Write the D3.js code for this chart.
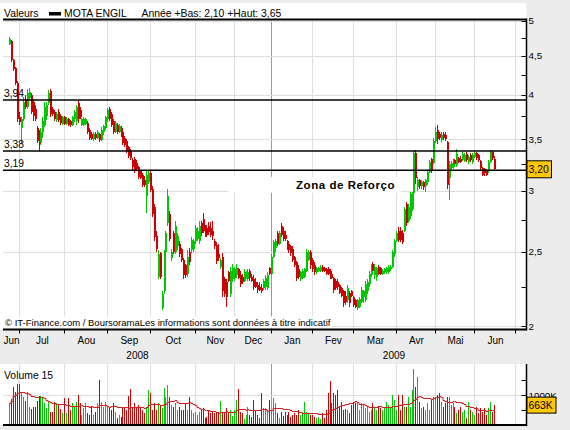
<!DOCTYPE html>
<html lang="fr">
<head>
<meta charset="utf-8">
<title>MOTA ENGIL</title>
<script src="https://cdn.jsdelivr.net/npm/d3@7/dist/d3.min.js"></script>
<style>
  html, body { margin: 0; padding: 0; background: #ececec; }
  svg { display: block; }
  text { font-family: "Liberation Sans", Arial, sans-serif; fill: #000; }
</style>
</head>
<body>
<svg id="chart" width="570" height="430"></svg>
<script>
// ---------- data ----------
const stock = "MOTA ENGIL";
const monthLabels = ["Jun","Jul","Aou","Sep","Oct","Nov","Dec","Jan","Fev","Mar","Avr","Mai","Jun"];
// trading-day index at which each month starts (last entry closes the final month)
const monthStart = [-16, 5, 28, 50, 72, 95, 115, 134, 155, 176, 198, 218, 238, 259];
const yearLabels = ["2008", "2009"];
const yearStart = [-16, 134, 259];
const priceTicks = [2, 2.25, 2.5, 2.75, 3, 3.25, 3.5, 3.75, 4, 4.25, 4.5, 4.75, 5];
const levels = [3.94, 3.38, 3.19];
const volumeTicks = [500, 1000, 1500];
const maPeriod = 15;

// daily [open, high, low, close]
const ohlc = [
  [4.66,4.76,4.64,4.73],[4.70,4.72,4.42,4.44],[4.44,4.46,4.30,4.32],[4.33,4.35,4.12,4.14],[4.15,4.17,3.69,3.72],[3.74,3.80,3.66,3.69],[3.62,3.74,3.46,3.72],[3.72,3.97,3.70,3.92],[3.95,4.00,3.84,3.86],[3.86,4.07,3.84,4.02],
  [3.96,4.08,3.94,4.04],[4.00,4.02,3.78,3.80],[3.92,3.95,3.70,3.75],[3.84,3.88,3.70,3.72],[3.62,3.64,3.46,3.48],[3.55,3.60,3.38,3.45],[3.46,3.62,3.44,3.58],[3.58,3.74,3.52,3.70],[3.66,3.91,3.63,3.86],[3.76,3.92,3.71,3.88],
  [3.90,4.06,3.88,4.02],[4.05,4.07,3.74,3.78],[3.84,3.86,3.76,3.78],[3.80,3.82,3.70,3.72],[3.71,3.80,3.69,3.78],[3.80,3.83,3.69,3.71],[3.76,3.78,3.66,3.68],[3.67,3.76,3.66,3.74],[3.74,3.76,3.65,3.67],[3.67,3.74,3.65,3.72],
  [3.72,3.73,3.64,3.66],[3.70,3.71,3.63,3.65],[3.65,3.76,3.64,3.74],[3.72,3.82,3.69,3.80],[3.70,3.88,3.66,3.86],[3.90,3.93,3.68,3.72],[3.82,3.86,3.72,3.74],[3.66,3.73,3.64,3.72],[3.66,3.74,3.64,3.72],[3.67,3.73,3.66,3.72],
  [3.68,3.70,3.56,3.58],[3.60,3.62,3.49,3.52],[3.56,3.58,3.49,3.50],[3.50,3.58,3.48,3.56],[3.56,3.58,3.49,3.51],[3.52,3.60,3.50,3.58],[3.56,3.57,3.47,3.49],[3.49,3.63,3.48,3.60],[3.58,3.66,3.55,3.64],[3.62,3.76,3.60,3.74],
  [3.72,3.85,3.69,3.82],[3.84,3.86,3.70,3.72],[3.78,3.80,3.63,3.66],[3.70,3.72,3.56,3.58],[3.58,3.70,3.57,3.68],[3.66,3.68,3.56,3.58],[3.58,3.67,3.57,3.64],[3.62,3.64,3.53,3.55],[3.58,3.60,3.44,3.46],[3.52,3.54,3.42,3.44],
  [3.48,3.50,3.36,3.38],[3.42,3.43,3.31,3.33],[3.38,3.40,3.29,3.31],[3.29,3.31,3.18,3.22],[3.30,3.32,3.16,3.18],[3.26,3.29,3.18,3.20],[3.22,3.23,3.11,3.13],[3.18,3.19,3.11,3.12],[3.15,3.16,3.03,3.05],[3.10,3.14,3.03,3.05],
  [2.95,3.19,2.81,3.15],[3.08,3.18,3.06,3.16],[3.16,3.18,2.99,3.01],[3.02,3.04,2.77,2.80],[2.86,2.88,2.58,2.61],[2.62,2.66,2.50,2.52],[2.32,2.51,2.30,2.48],[2.49,2.50,2.30,2.32],[2.11,2.22,2.10,2.20],[2.22,2.51,2.20,2.48],
  [2.50,2.66,2.48,2.64],[2.72,3.02,2.70,2.95],[2.80,2.82,2.58,2.60],[2.45,2.52,2.43,2.50],[2.64,2.66,2.48,2.50],[2.50,2.74,2.48,2.70],[2.54,2.64,2.51,2.62],[2.56,2.58,2.46,2.48],[2.52,2.53,2.42,2.44],[2.44,2.45,2.30,2.33],
  [2.40,2.41,2.31,2.33],[2.34,2.51,2.32,2.46],[2.50,2.53,2.40,2.42],[2.51,2.61,2.49,2.59],[2.52,2.60,2.50,2.58],[2.58,2.71,2.56,2.68],[2.60,2.69,2.58,2.66],[2.58,2.74,2.56,2.70],[2.72,2.74,2.62,2.64],[2.76,2.81,2.64,2.66],
  [2.70,2.71,2.61,2.62],[2.68,2.71,2.61,2.63],[2.70,2.73,2.63,2.65],[2.68,2.73,2.61,2.63],[2.66,2.74,2.59,2.62],[2.58,2.60,2.52,2.54],[2.55,2.57,2.41,2.43],[2.48,2.56,2.43,2.45],[2.39,2.45,2.37,2.44],[2.46,2.49,2.18,2.22],
  [2.30,2.32,2.18,2.20],[2.28,2.30,2.12,2.18],[2.35,2.36,2.28,2.29],[2.20,2.39,2.18,2.36],[2.30,2.41,2.28,2.38],[2.31,2.39,2.29,2.37],[2.33,2.41,2.31,2.38],[2.37,2.38,2.30,2.31],[2.33,2.36,2.25,2.27],[2.32,2.34,2.27,2.28],
  [2.29,2.37,2.28,2.35],[2.31,2.36,2.30,2.34],[2.30,2.37,2.29,2.35],[2.36,2.37,2.29,2.31],[2.32,2.34,2.28,2.29],[2.30,2.33,2.23,2.25],[2.28,2.31,2.24,2.25],[2.26,2.28,2.21,2.23],[2.25,2.28,2.22,2.23],[2.24,2.27,2.21,2.22],
  [2.24,2.30,2.23,2.29],[2.25,2.33,2.23,2.31],[2.24,2.35,2.23,2.33],[2.38,2.39,2.33,2.34],[2.34,2.48,2.33,2.46],[2.46,2.59,2.45,2.57],[2.53,2.60,2.50,2.58],[2.64,2.66,2.54,2.56],[2.56,2.66,2.55,2.64],[2.70,2.72,2.61,2.63],
  [2.66,2.69,2.58,2.60],[2.63,2.66,2.58,2.60],[2.58,2.59,2.51,2.53],[2.56,2.57,2.49,2.51],[2.54,2.55,2.47,2.49],[2.52,2.54,2.42,2.44],[2.46,2.47,2.39,2.40],[2.42,2.43,2.29,2.31],[2.37,2.40,2.30,2.32],[2.30,2.36,2.29,2.35],
  [2.31,2.37,2.30,2.36],[2.32,2.38,2.31,2.37],[2.36,2.52,2.35,2.50],[2.44,2.51,2.43,2.50],[2.50,2.51,2.37,2.40],[2.44,2.45,2.35,2.37],[2.40,2.42,2.33,2.35],[2.35,2.39,2.34,2.38],[2.36,2.39,2.35,2.38],[2.36,2.40,2.35,2.39],
  [2.39,2.40,2.35,2.36],[2.38,2.39,2.35,2.36],[2.37,2.38,2.33,2.34],[2.37,2.39,2.33,2.34],[2.36,2.37,2.30,2.31],[2.34,2.36,2.30,2.31],[2.31,2.32,2.21,2.23],[2.29,2.30,2.23,2.24],[2.28,2.30,2.23,2.25],[2.26,2.27,2.20,2.21],
  [2.24,2.25,2.18,2.19],[2.22,2.23,2.12,2.14],[2.19,2.22,2.13,2.15],[2.16,2.26,2.14,2.24],[2.21,2.22,2.12,2.14],[2.22,2.23,2.18,2.19],[2.18,2.19,2.12,2.13],[2.16,2.17,2.11,2.12],[2.11,2.17,2.10,2.16],[2.12,2.18,2.11,2.17],
  [2.15,2.25,2.14,2.23],[2.18,2.23,2.14,2.22],[2.16,2.29,2.15,2.27],[2.22,2.30,2.20,2.28],[2.27,2.36,2.25,2.34],[2.33,2.41,2.32,2.39],[2.41,2.42,2.34,2.36],[2.33,2.41,2.30,2.39],[2.32,2.39,2.29,2.38],[2.39,2.40,2.33,2.34],
  [2.38,2.39,2.33,2.34],[2.34,2.37,2.33,2.36],[2.35,2.38,2.34,2.37],[2.35,2.39,2.34,2.38],[2.35,2.40,2.34,2.39],[2.37,2.40,2.36,2.39],[2.39,2.51,2.38,2.50],[2.48,2.60,2.46,2.58],[2.58,2.66,2.57,2.64],[2.66,2.69,2.57,2.59],
  [2.66,2.69,2.57,2.59],[2.64,2.67,2.56,2.57],[2.66,2.86,2.65,2.84],[2.88,2.90,2.70,2.72],[2.74,2.88,2.72,2.86],[2.78,2.99,2.76,2.97],[2.84,2.99,2.82,2.97],[2.98,3.38,2.97,3.36],[3.36,3.39,3.06,3.12],[3.03,3.13,3.00,3.10],
  [3.10,3.11,3.02,3.04],[3.04,3.10,3.02,3.08],[3.08,3.09,3.01,3.03],[3.04,3.11,2.99,3.10],[3.08,3.19,3.05,3.17],[3.17,3.29,3.16,3.27],[3.30,3.31,3.16,3.19],[3.26,3.52,3.25,3.48],[3.48,3.63,3.46,3.58],[3.60,3.65,3.45,3.50],
  [3.56,3.58,3.49,3.51],[3.49,3.58,3.47,3.55],[3.56,3.58,3.49,3.51],[3.55,3.58,3.48,3.50],[3.47,3.48,3.02,3.05],[3.12,3.28,2.92,3.25],[3.21,3.28,3.19,3.26],[3.22,3.30,3.20,3.28],[3.29,3.30,3.24,3.25],[3.24,3.40,3.22,3.35],
  [3.31,3.32,3.26,3.27],[3.30,3.33,3.26,3.27],[3.29,3.37,3.28,3.35],[3.28,3.36,3.27,3.34],[3.35,3.37,3.27,3.29],[3.27,3.34,3.25,3.32],[3.34,3.36,3.27,3.29],[3.27,3.36,3.25,3.34],[3.32,3.37,3.31,3.36],[3.36,3.37,3.29,3.31],
  [3.34,3.35,3.27,3.29],[3.28,3.29,3.19,3.21],[3.21,3.22,3.14,3.15],[3.20,3.21,3.14,3.16],[3.19,3.20,3.14,3.15],[3.18,3.29,3.16,3.27],[3.27,3.39,3.26,3.37],[3.37,3.38,3.29,3.31],[3.30,3.33,3.18,3.20]
];

// daily volume, thousands of shares
const volume = [
  705,838,1260,1094,1350,1350,1040,927,794,1094,
  593,505,593,593,794,949,960,872,727,538,
  760,427,427,760,705,650,505,372,872,372,
  872,483,705,593,760,983,727,317,538,705,
  372,317,593,317,427,705,1483,760,593,738,
  593,538,483,705,427,205,317,261,538,593,
  483,949,1200,593,705,593,650,538,483,372,
  538,1150,1040,483,705,483,705,650,538,1205,
  927,1316,927,650,593,705,483,593,483,483,
  705,483,927,483,372,427,317,427,483,538,
  227,261,483,372,427,372,372,427,794,372,
  427,538,372,483,283,483,817,1200,427,372,
  172,317,593,317,261,817,483,317,227,1040,
  538,538,483,817,483,872,705,372,205,427,
  283,427,317,427,261,317,372,317,483,317,
  427,760,427,372,317,317,261,205,261,172,
  372,205,483,1040,1460,705,1040,983,1150,593,
  760,483,505,483,372,650,760,705,760,483,
  705,650,538,593,427,483,727,593,483,593,
  538,483,593,760,650,593,983,817,483,983,
  483,983,593,593,927,593,1150,1850,1260,1600,
  760,538,593,483,705,483,817,927,905,983,
  1040,760,593,705,927,927,650,705,593,372,
  483,593,427,483,205,760,483,427,317,593,
  372,538,427,538,317,538,760,427,663
];

// ---------- layout ----------
const svg = d3.select("#chart");
const L = 3, R = 526.5, T = 19.5, B = 329.5;   // price panel
const VT = 364, VB = 425;                       // volume panel
const GREEN = "#00c800", RED = "#cc0000", GRID = "#dedede", YEARLINE = "#9a9a9a";

const x = d3.scaleLinear().domain([-3.7, 264.1]).range([3, 526]);
const y = d3.scaleLog().domain([2, 5]).range([326, 20.5]);
const yv = d3.scaleLinear().domain([0, 1000]).range([424.5, 394.5]);
const px = i => Math.round(x(i));
const clampX = v => Math.max(L, Math.min(R, v));
const comma = v => String(v).replace(".", ",");
const isUp = d => d[3] >= d[0];

// backgrounds
svg.append("rect").attr("width", 570).attr("height", 430).attr("fill", "#ececec");
svg.append("rect").attr("x", 0).attr("y", 3).attr("width", R).attr("height", B - 3).attr("fill", "#fff");
svg.append("rect").attr("x", 0).attr("y", VT).attr("width", R).attr("height", VB - VT).attr("fill", "#fff");

svg.append("defs").append("clipPath").attr("id", "plotClip")
  .append("rect").attr("x", L).attr("y", T).attr("width", R - L).attr("height", B - T);

// ---------- grid ----------
const grid = svg.append("g").attr("shape-rendering", "crispEdges");
const boundaries = monthStart.filter(b => x(b) > L && x(b) < R);
const yearBoundary = yearStart[1];
[[T, B], [VT, VB]].forEach(([t, b]) => {
  grid.selectAll(null).data(boundaries).join("line")
    .attr("x1", d => px(d) - 0.5).attr("x2", d => px(d) - 0.5)
    .attr("y1", t).attr("y2", b)
    .attr("stroke", d => d === yearBoundary ? YEARLINE : GRID);
});
const majorTicks = priceTicks.filter(v => Number.isInteger(v * 2));
grid.selectAll(null).data(majorTicks).join("line")
  .attr("x1", L).attr("x2", R)
  .attr("y1", d => Math.round(y(d)) + 0.5).attr("y2", d => Math.round(y(d)) + 0.5)
  .attr("stroke", GRID);
grid.append("line").attr("x1", L).attr("x2", R)
  .attr("y1", Math.round(yv(1000)) + 0.5).attr("y2", Math.round(yv(1000)) + 0.5)
  .attr("stroke", GRID);

// ---------- annotation boxes ----------
const zoneY = y(3);
svg.append("rect").attr("x", 228).attr("y", zoneY - 14).attr("width", 173).attr("height", 16).attr("fill", "#fff");
svg.append("text").attr("x", 296).attr("y", zoneY - 1.5)
  .attr("font-size", "11.5px").attr("font-weight", "bold").attr("letter-spacing", "0.55px")
  .text("Zona de Reforço");

svg.append("rect").attr("x", L).attr("y", 316.5).attr("width", 330).attr("height", 11.5).attr("fill", "#fff");
svg.append("text").attr("x", 5).attr("y", 326.3).attr("font-size", "9.5px")
  .text("© IT-Finance.com / BoursoramaLes informations sont données à titre indicatif");

// ---------- candles ----------
const candles = svg.append("g").attr("clip-path", "url(#plotClip)").attr("shape-rendering", "crispEdges");
candles.selectAll("line").data(ohlc).join("line")
  .attr("x1", (d, i) => px(i) - 0.5).attr("x2", (d, i) => px(i) - 0.5)
  .attr("y1", d => y(d[1])).attr("y2", d => y(d[2]))
  .attr("stroke", d => isUp(d) ? GREEN : RED);
candles.selectAll("rect").data(ohlc).join("rect")
  .attr("x", (d, i) => px(i) - 1).attr("width", 2)
  .attr("y", d => y(Math.max(d[0], d[3])))
  .attr("height", d => Math.max(1, Math.abs(y(d[0]) - y(d[3]))))
  .attr("fill", d => isUp(d) ? GREEN : RED);

// ---------- support / resistance levels ----------
const lv = svg.append("g");
lv.selectAll("line").data(levels).join("line")
  .attr("x1", L).attr("x2", R)
  .attr("y1", d => y(d)).attr("y2", d => y(d))
  .attr("stroke", "#000").attr("stroke-width", 1.5);
lv.selectAll("text").data(levels).join("text")
  .attr("x", 4).attr("y", d => y(d) - 3.2)
  .attr("font-size", "10.3px")
  .text(d => comma(d.toFixed(2)));

// ---------- volume ----------
const vg = svg.append("g").attr("shape-rendering", "crispEdges");
vg.selectAll("rect").data(volume).join("rect")
  .attr("x", (d, i) => px(i) - 1).attr("width", 1)
  .attr("y", d => yv(d)).attr("height", d => yv(0) - yv(d))
  .attr("fill", (d, i) => isUp(ohlc[i]) ? GREEN : RED);

const movingAvg = volume.map((v, i) => d3.mean(volume.slice(Math.max(0, i - maPeriod + 1), i + 1)));
svg.append("path").datum(movingAvg)
  .attr("d", d3.line().x((d, i) => px(i)).y(d => Math.round(yv(d)) + 0.5).curve(d3.curveStep))
  .attr("fill", "none").attr("stroke", "#d42020").attr("stroke-width", 1);

svg.append("text").attr("x", 4).attr("y", 378.5).attr("font-size", "10.4px").text("Volume " + maPeriod);

// ---------- frame & axes ----------
const frame = svg.append("g").attr("stroke", "#000");
frame.append("line").attr("x1", L).attr("x2", R).attr("y1", T).attr("y2", T).attr("stroke-width", 2);
frame.append("line").attr("x1", L).attr("x2", R).attr("y1", B).attr("y2", B).attr("stroke-width", 2);
frame.append("line").attr("x1", R).attr("x2", R).attr("y1", T - 1).attr("y2", B + 1).attr("stroke-width", 1.5);
frame.append("line").attr("x1", L).attr("x2", R).attr("y1", VB).attr("y2", VB).attr("stroke-width", 2);
frame.append("line").attr("x1", R).attr("x2", R).attr("y1", VT).attr("y2", VB + 1).attr("stroke-width", 1.5);

// month ticks & labels
frame.selectAll(null).data(boundaries).join("line")
  .attr("x1", d => px(d) - 0.5).attr("x2", d => px(d) - 0.5)
  .attr("y1", B).attr("y2", B + 4).attr("stroke-width", 1);
const monthSpans = monthLabels.map((m, k) => ({
  label: m,
  mid: (clampX(x(monthStart[k])) + clampX(x(monthStart[k + 1]))) / 2
}));
svg.append("g").selectAll("text").data(monthSpans).join("text")
  .attr("x", d => d.mid).attr("y", 344).attr("text-anchor", "middle")
  .attr("font-size", "10px").text(d => d.label);
const yearSpans = yearLabels.map((yl, k) => ({
  label: yl,
  mid: (clampX(x(yearStart[k])) + x(yearStart[k + 1])) / 2
}));
svg.append("g").selectAll("text").data(yearSpans).join("text")
  .attr("x", d => Math.min(d.mid, 400)).attr("y", 358.5).attr("text-anchor", "middle")
  .attr("font-size", "10px").text(d => d.label);

// price axis (right)
frame.selectAll(null).data(priceTicks).join("line")
  .attr("x1", R - 5).attr("x2", R)
  .attr("y1", d => Math.round(y(d)) + 0.5).attr("y2", d => Math.round(y(d)) + 0.5)
  .attr("stroke-width", 1);
svg.append("g").selectAll("text").data(majorTicks).join("text")
  .attr("x", 528.5).attr("y", d => y(d) + 3.6)
  .attr("font-size", "9.8px").text(d => comma(d));

// volume axis (right)
frame.selectAll(null).data(volumeTicks).join("line")
  .attr("x1", R - 5).attr("x2", R)
  .attr("y1", d => Math.round(yv(d)) + 0.5).attr("y2", d => Math.round(yv(d)) + 0.5)
  .attr("stroke-width", 1);
svg.append("text").attr("x", 528.5).attr("y", yv(1000) + 4).attr("font-size", "9.8px").text("1000K");

// last value tags
const last = ohlc[ohlc.length - 1];
const lastY = y(last[3]);
svg.append("rect").attr("x", 527).attr("y", lastY - 8.5).attr("width", 24.5).attr("height", 17)
  .attr("fill", "#ffc800").attr("stroke", "#000").attr("stroke-width", 1);
svg.append("text").attr("x", 528.5).attr("y", lastY + 4).attr("font-size", "10.4px")
  .text(comma(last[3].toFixed(2)));
const lastV = volume[volume.length - 1];
const lastVY = yv(lastV);
svg.append("rect").attr("x", 527).attr("y", lastVY - 7.5).attr("width", 29).attr("height", 16)
  .attr("fill", "#ffc800").attr("stroke", "#000").attr("stroke-width", 1);
svg.append("text").attr("x", 528.5).attr("y", lastVY + 4).attr("font-size", "10.4px")
  .text(lastV + "K");

// ---------- header ----------
const ytd = ohlc.slice(yearStart[1]);
const low = d3.min(ytd, d => d[2]), high = d3.max(ytd, d => d[1]);
const head = svg.append("g").attr("font-size", "10.4px");
head.append("text").attr("x", 4).attr("y", 16.5).text("Valeurs");
head.append("rect").attr("x", 49).attr("y", 12).attr("width", 12).attr("height", 3.5).attr("fill", "#000");
head.append("text").attr("x", 64).attr("y", 16.5).text(stock);
head.append("text").attr("x", 141.5).attr("y", 16.5)
  .text("Année +Bas: " + comma(low.toFixed(2)) + " +Haut: " + comma(high.toFixed(2)));
</script>
</body>
</html>
